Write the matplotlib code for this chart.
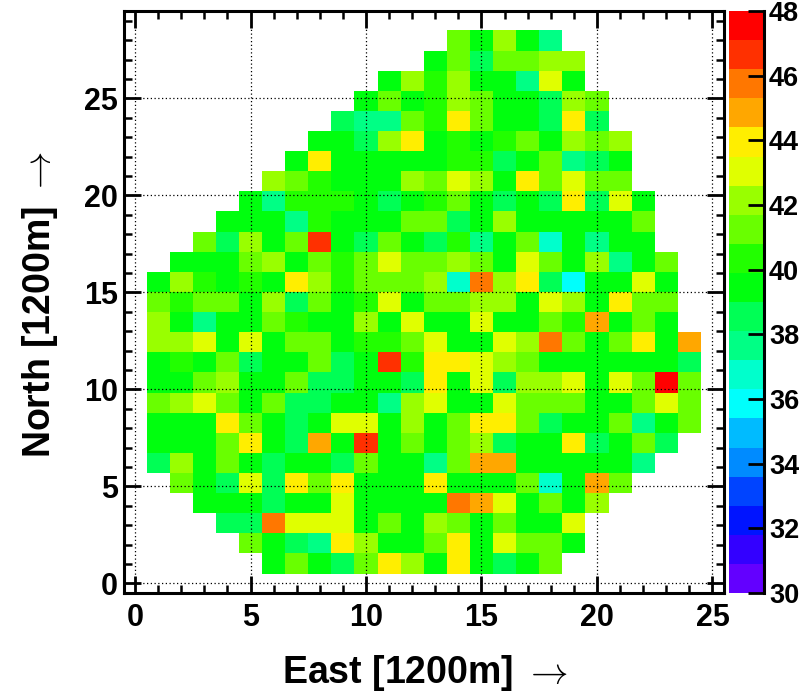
import colorsys
import numpy as np
import matplotlib
matplotlib.use("Agg")
import matplotlib.pyplot as plt
from matplotlib.colors import ListedColormap, BoundaryNorm
from matplotlib.ticker import MultipleLocator

plt.rcParams['font.family'] = ['Liberation Sans', 'DejaVu Sans']
plt.rcParams['font.weight'] = 'bold'
plt.rcParams['mathtext.fontset'] = 'cm'   # thin arrow like ROOT's #rightarrow

## cell values, one list per row from the top (north) down,
## each row starting at the column given in row_start
row_start = [14, 13, 11, 10, 9, 8, 7, 6, 5, 4, 3, 2, 1, 1, 1, 1, 1, 1, 1, 1, 1, 1, 2, 3, 4, 5, 6]
rows_top = [
    [41.2, 39.5, 42.1, 39.5, 37.7],
    [39.5, 41.2, 38.6, 41.2, 41.2, 42.1, 42.1],
    [39.5, 42.1, 40.3, 42.1, 39.5, 39.5, 37.7, 43.0, 39.5],
    [39.5, 41.2, 39.5, 40.3, 42.1, 41.2, 39.5, 39.5, 38.6, 42.1, 41.2],
    [38.6, 37.7, 37.7, 41.2, 40.3, 44.0, 41.2, 39.5, 39.5, 38.6, 44.0, 38.6],
    [39.5, 39.5, 38.6, 42.1, 44.0, 39.5, 40.3, 39.5, 40.3, 41.2, 39.5, 42.1, 41.2, 42.1],
    [39.5, 44.0, 39.5, 39.5, 39.5, 39.5, 39.5, 40.3, 40.3, 38.6, 39.5, 41.2, 37.7, 38.6, 39.5],
    [42.1, 41.2, 40.3, 39.5, 39.5, 39.5, 42.1, 41.2, 43.0, 42.1, 39.5, 44.0, 41.2, 43.0, 41.2, 41.2],
    [39.5, 37.7, 40.3, 40.3, 40.3, 39.5, 38.6, 39.5, 40.3, 41.2, 39.5, 38.6, 39.5, 38.6, 44.0, 38.6, 43.0, 39.5],
    [39.5, 39.5, 39.5, 37.7, 40.3, 39.5, 39.5, 39.5, 41.2, 41.2, 38.6, 39.5, 42.1, 39.5, 39.5, 39.5, 39.5, 39.5, 41.2],
    [41.2, 38.6, 42.1, 39.5, 41.2, 46.6, 39.5, 38.6, 41.2, 39.5, 38.6, 40.3, 37.7, 39.5, 41.2, 36.8, 39.5, 37.7, 39.5, 39.5],
    [39.5, 39.5, 39.5, 41.2, 42.1, 39.5, 41.2, 40.3, 41.2, 43.0, 41.2, 41.2, 42.1, 41.2, 39.5, 43.0, 41.2, 39.5, 42.1, 37.7, 39.5, 41.2],
    [39.5, 42.1, 40.3, 39.5, 40.3, 39.5, 44.0, 42.1, 40.3, 41.2, 41.2, 41.2, 42.1, 36.8, 45.7, 42.1, 44.0, 38.6, 35.9, 39.5, 39.5, 43.0, 39.5],
    [41.2, 40.3, 41.2, 41.2, 39.5, 42.1, 38.6, 41.2, 39.5, 40.3, 43.0, 39.5, 41.2, 41.2, 42.1, 42.1, 39.5, 43.0, 42.1, 39.5, 44.0, 41.2, 41.2],
    [42.1, 39.5, 37.7, 39.5, 39.5, 41.2, 40.3, 39.5, 39.5, 42.1, 39.5, 43.0, 39.5, 39.5, 43.0, 39.5, 39.5, 41.2, 40.3, 44.8, 39.5, 41.2, 39.5],
    [42.1, 42.1, 43.0, 39.5, 43.0, 39.5, 41.2, 41.2, 39.5, 40.3, 40.3, 41.2, 43.0, 39.5, 39.5, 43.0, 42.1, 45.7, 41.2, 39.5, 41.2, 44.0, 39.5, 44.8],
    [39.5, 40.3, 39.5, 41.2, 38.6, 39.5, 39.5, 41.2, 38.6, 39.5, 46.6, 40.3, 44.0, 44.0, 43.0, 42.1, 41.2, 39.5, 39.5, 39.5, 39.5, 39.5, 39.5, 38.6],
    [39.5, 39.5, 41.2, 42.1, 39.5, 39.5, 41.2, 38.6, 38.6, 39.5, 39.5, 38.6, 44.0, 39.5, 43.0, 38.6, 42.1, 42.1, 43.0, 39.5, 43.0, 41.2, 47.5, 41.2],
    [41.2, 42.1, 43.0, 41.2, 39.5, 41.2, 38.6, 38.6, 39.5, 39.5, 37.7, 42.1, 43.0, 39.5, 39.5, 43.0, 41.2, 41.2, 41.2, 39.5, 39.5, 41.2, 43.0, 41.2],
    [39.5, 39.5, 39.5, 44.0, 41.2, 39.5, 38.6, 39.5, 43.0, 43.0, 39.5, 42.1, 39.5, 41.2, 44.0, 44.0, 41.2, 38.6, 39.5, 39.5, 41.2, 37.7, 39.5, 41.2],
    [39.5, 39.5, 39.5, 41.2, 44.0, 39.5, 38.6, 44.8, 39.5, 46.6, 39.5, 41.2, 39.5, 41.2, 42.1, 38.6, 39.5, 39.5, 44.0, 38.6, 39.5, 41.2, 38.6],
    [38.6, 42.1, 39.5, 41.2, 39.5, 38.6, 39.5, 39.5, 38.6, 41.2, 39.5, 39.5, 37.7, 41.2, 44.8, 44.8, 39.5, 39.5, 39.5, 39.5, 39.5, 37.7],
    [41.2, 39.5, 38.6, 43.0, 38.6, 44.0, 41.2, 44.0, 39.5, 39.5, 39.5, 44.0, 39.5, 39.5, 39.5, 41.2, 36.8, 39.5, 44.8, 41.2],
    [39.5, 39.5, 39.5, 38.6, 39.5, 39.5, 43.0, 39.5, 39.5, 39.5, 39.5, 45.7, 44.8, 43.0, 39.5, 41.2, 39.5, 42.1],
    [38.6, 38.6, 45.7, 43.0, 43.0, 43.0, 39.5, 41.2, 39.5, 42.1, 41.2, 39.5, 41.2, 39.5, 39.5, 43.0],
    [41.2, 39.5, 38.6, 37.7, 44.0, 42.1, 39.5, 39.5, 41.2, 44.0, 39.5, 43.0, 41.2, 41.2, 39.5],
    [39.5, 41.2, 39.5, 38.6, 41.2, 44.0, 42.1, 39.5, 44.0, 39.5, 38.6, 39.5, 41.2],
]

n_col = 24
n_row = len(rows_top)
x_edges = np.arange(0.5, n_col + 1)             # 24 columns, 1..24
y_edges = np.linspace(0.5, 28.5, n_row + 1)     # 27 rows over 0.5..28.5

Z = np.full((n_row, n_col), np.nan)
for t, vals in enumerate(rows_top):
    s = row_start[t] - 1
    Z[n_row - 1 - t, s:s + len(vals)] = vals
Z = np.ma.masked_invalid(Z)

## ROOT "pretty" palette (50 hues violet->red), 20 contours between 30 and 48
zmin, zmax, ncont = 30, 48, 20
levels = np.linspace(zmin, zmax, ncont + 1)
cols = []
for k in range(ncont):
    idx = int((k + 0.99) * 50 / ncont)
    hue = 280 - (idx + 1) * 280 / 50
    cols.append(colorsys.hls_to_rgb(hue / 360.0, 0.5, 1.0))
cmap = ListedColormap(cols)
norm = BoundaryNorm(levels, ncont)

W, H = 809, 692
fig = plt.figure(figsize=(W / 100, H / 100), dpi=100)
ax = fig.add_axes([123.5 / W, 99 / H, 600.5 / W, 582 / H])
cax = fig.add_axes([728.5 / W, 99 / H, 35 / W, 582 / H])

mesh = ax.pcolormesh(x_edges, y_edges, Z, cmap=cmap, norm=norm,
                     shading='flat', antialiased=False, edgecolors='none', zorder=1)

ax.set_xlim(-0.5, 25.5)
ax.set_ylim(-0.5, 29.5)
ax.xaxis.set_major_locator(MultipleLocator(5))
ax.yaxis.set_major_locator(MultipleLocator(5))
ax.xaxis.set_minor_locator(MultipleLocator(1))
ax.yaxis.set_minor_locator(MultipleLocator(1))
ax.tick_params(which='both', direction='in', top=True, right=True, width=2, labelsize=22)
ax.tick_params(which='major', length=12)
ax.tick_params(which='minor', length=6, width=1.8)
ax.tick_params(axis='x', pad=7)
ax.tick_params(axis='y', pad=4)
for sp in ax.spines.values():
    sp.set_linewidth(2.2)

ax.set_axisbelow(False)
ax.grid(True, which='major', color='k', linestyle=(0, (1.0, 2.0)), linewidth=0.9)

cb = fig.colorbar(mesh, cax=cax, ticks=np.arange(30, 49, 2))
cb.outline.set_visible(False)
cax.tick_params(direction='in', length=11.5, width=2, labelsize=19.5, pad=4)
cax.minorticks_off()
cax.plot([1, 1], [0, 1], transform=cax.transAxes, color='k', lw=2.2, clip_on=False)

fig.text(425 / W, 9 / H, 'East [1200m] $\\rightarrow$', ha='center', va='baseline',
         fontsize=27, fontweight='bold')
fig.text(50 / W, (H - 305) / H, 'North [1200m] $\\rightarrow$', ha='center', va='baseline',
         rotation=90, rotation_mode='anchor', fontsize=27, fontweight='bold')

fig.savefig('out.png', dpi=100)
